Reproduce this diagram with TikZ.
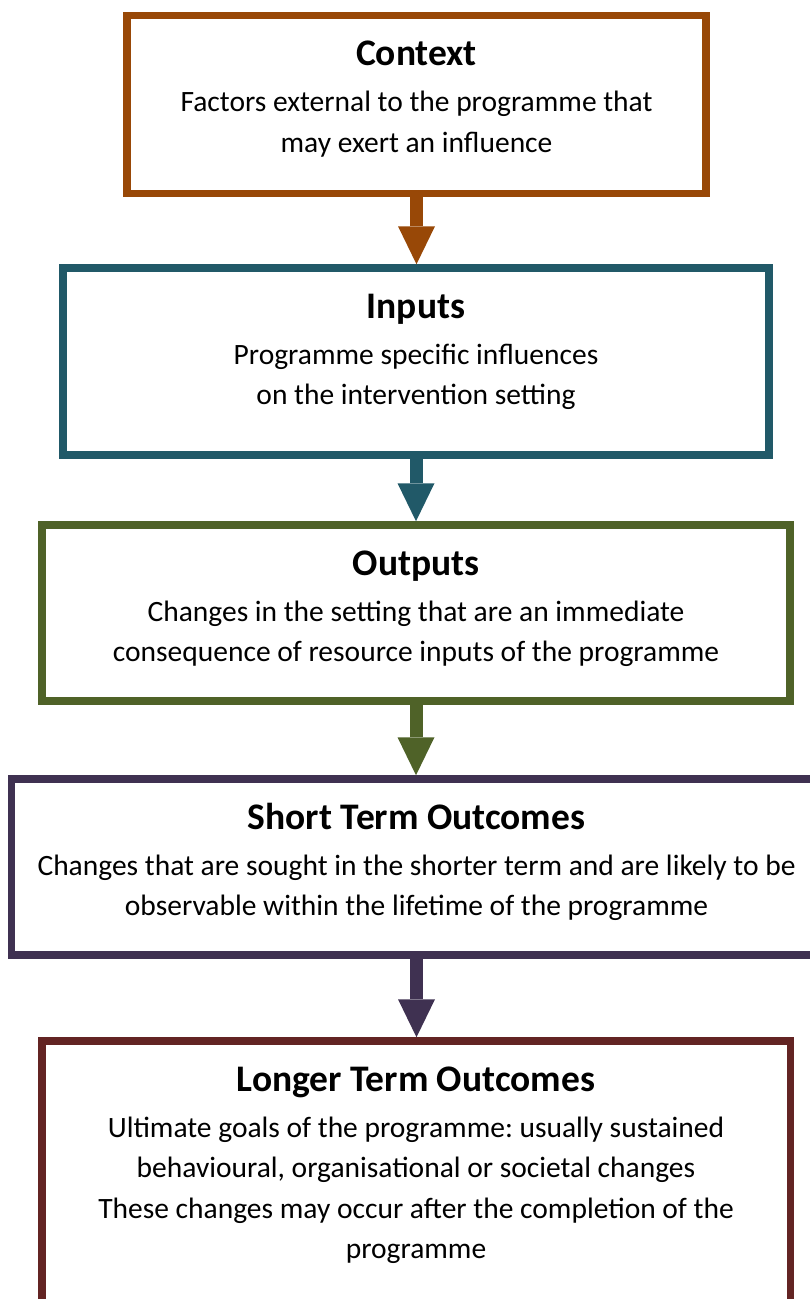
\documentclass[tikz,border=0pt]{standalone}
\usepackage{fontspec}
\setmainfont{Carlito}
\usetikzlibrary{arrows.meta}
\frenchspacing

\definecolor{ctxcol}{HTML}{984807}
\definecolor{inpcol}{HTML}{215968}
\definecolor{outcol}{HTML}{4F6228}
\definecolor{stocol}{HTML}{3F3151}
\definecolor{ltocol}{HTML}{632423}

\newcommand{\boxtext}[2]{%
  \begin{tabular}[t]{@{}c@{}}{\fontsize{37.5}{40.5}\selectfont\bfseries #1}\\[5.5pt] #2\end{tabular}}

\begin{document}
\begin{tikzpicture}[x=1pt,y=-1pt,
  frame/.style={draw=#1,line width=7.5pt,fill=white,inner sep=0pt},
  txt/.style={anchor=base,yshift=-54pt,inner sep=0pt,
    font=\fontsize{29.5}{40.5}\selectfont},
  arr/.style={draw=#1,line width=13pt,
    -{Triangle[width=37pt,length=38pt,line width=0pt]}}]
  \useasboundingbox (0,0) rectangle (809,1299);

  \node[frame=ctxcol,minimum width=579pt,minimum height=178pt] (context) at (416.5,104.5) {};
  \node[frame=inpcol,minimum width=706pt,minimum height=187pt] (inputs) at (416,361.5) {};
  \node[frame=outcol,minimum width=748pt,minimum height=176pt] (outputs) at (416,613) {};
  \node[frame=stocol,minimum width=810pt,minimum height=176pt] (short) at (416.5,867) {};
  \node[frame=ltocol,minimum width=748.5pt,minimum height=289pt] (longer) at (416,1185.5) {};

  \node[txt] (contexttxt) at (context.north) {\boxtext{Context}{Factors external to the programme that\\ may exert an influence}};
  \node[txt] (inputstxt) at (inputs.north) {\boxtext{Inputs}{Programme specific influences\\ on the intervention setting}};
  \node[txt] (outputstxt) at (outputs.north) {\boxtext{Outputs}{Changes in the setting that are an immediate\\ consequence of resource inputs of the programme}};
  \node[txt] (shorttxt) at (short.north) {\boxtext{Short Term Outcomes}{Changes that are sought in the shorter term and are likely to be\\ observable within the lifetime of the programme}};
  \node[txt] (longertxt) at (longer.north) {\boxtext{Longer Term Outcomes}{Ultimate goals of the programme: usually sustained\\ behavioural, organisational or societal changes\\ These changes may occur after the completion of the\\ programme}};

  \draw[arr=ctxcol] (context.south) -- (context.south |- inputs.north);
  \draw[arr=inpcol] (inputs.south) -- (inputs.south |- outputs.north);
  \draw[arr=outcol] (outputs.south) -- (outputs.south |- short.north);
  \draw[arr=stocol] (short.south) -- (short.south |- longer.north);
\end{tikzpicture}
\end{document}
